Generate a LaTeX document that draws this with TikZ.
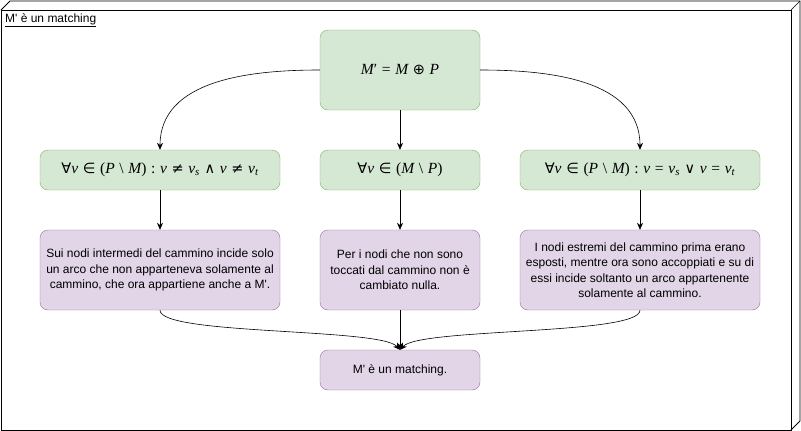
\documentclass[tikz,border=0pt]{standalone}
\usepackage{fontspec}
\setmainfont{Liberation Sans}
\newfontfamily\formulafont{Liberation Serif}
\newfontfamily\symfont{DejaVu Sans}
\usetikzlibrary{arrows.meta}

\definecolor{greenfill}{HTML}{D5E8D4}
\definecolor{greenline}{HTML}{82B366}
\definecolor{purplefill}{HTML}{E1D5E7}
\definecolor{purpleline}{HTML}{9673A6}
\newcommand{\apo}{\textquotesingle}
\newcommand{\mvar}[1]{{\itshape #1}}
\newcommand{\msym}[1]{{\symfont\fontsize{14.5}{16}\selectfont #1}}
\newcommand{\mrel}[1]{\hspace{0.3em}#1\hspace{0.3em}}
\newcommand{\lowix}[1]{\textsubscript{\itshape #1}}

\tikzset{
  greenbox/.style={draw=greenline, fill=greenfill, rounded corners=8pt,
    minimum height=40pt, inner sep=2pt, font=\formulafont\fontsize{15.5}{17}\selectfont},
  purplebox/.style={draw=purpleline, fill=purplefill, rounded corners=8pt,
    minimum height=80pt, inner sep=2pt, align=center,
    font=\fontsize{12}{15.5}\selectfont},
  link/.style={-{Stealth[length=7pt,width=6pt]}, line width=0.6pt}
}

\begin{document}
\begin{tikzpicture}[x=1pt, y=-1pt]
        \useasboundingbox (0,0) rectangle (801,431);

        % The box round everything
        \draw[line width=0.9pt, fill=white] (1,10) -- (791,10) -- (791,430) -- (1,430) -- cycle;
        \draw[line width=0.9pt] (1,10) -- (10,1) -- (800,1) -- (800,421) -- (791,430);
        \draw[line width=0.6pt] (791,10) -- (800,1);
        \node[anchor=west, inner sep=0pt, font=\fontsize{12}{14}\selectfont] (title) at (5,20)
          {\underline{M\apo{} è un matching}};

        % The definition
        \node[greenbox, minimum width=160pt, minimum height=80pt] (def) at (400,70)
          {\mvar{M}′\mrel{=}\mvar{M}\mrel{\msym{⊕}}\mvar{P}};

        % The three cases
        \node[greenbox, minimum width=240pt] (caseA) at (160,170)
          {\msym{∀}\mvar{v}\mrel{\msym{∈}}(\mvar{P}\mrel{\textbackslash}\mvar{M})\mrel{:}\mvar{v}\mrel{\msym{≠}}\mvar{v}\lowix{s}\mrel{\msym{∧}}\mvar{v}\mrel{\msym{≠}}\mvar{v}\lowix{t}};
        \node[greenbox, minimum width=160pt] (caseB) at (400,170)
          {\msym{∀}\mvar{v}\mrel{\msym{∈}}(\mvar{M}\mrel{\textbackslash}\mvar{P})};
        \node[greenbox, minimum width=240pt] (caseC) at (640,170)
          {\msym{∀}\mvar{v}\mrel{\msym{∈}}(\mvar{P}\mrel{\textbackslash}\mvar{M})\mrel{:}\mvar{v}\mrel{=}\mvar{v}\lowix{s}\mrel{\msym{∨}}\mvar{v}\mrel{=}\mvar{v}\lowix{t}};

        % What follows in each case
        \node[purplebox, minimum width=240pt] (resA) at (160,270)
          {Sui nodi intermedi del cammino incide solo\\un arco che non apparteneva solamente al\\cammino, che ora appartiene anche a M\apo.};
        \node[purplebox, minimum width=160pt] (resB) at (400,270)
          {Per i nodi che non sono\\toccati dal cammino non è\\cambiato nulla.};
        \node[purplebox, minimum width=240pt] (resC) at (640,270)
          {I nodi estremi del cammino prima erano\\esposti, mentre ora sono accoppiati e su di\\essi incide soltanto un arco appartenente\\solamente al cammino.};

        % The conclusion
        \node[purplebox, minimum width=160pt, minimum height=40pt] (end) at (400,370) {M\apo{} è un matching.};

        % The arrows
        \draw[link] (def.west) to[out=180, in=90] (caseA.north);
        \draw[link] (def.south) -- (caseB.north);
        \draw[link] (def.east) to[out=0, in=90] (caseC.north);
        \draw[link] (caseA) -- (resA);
        \draw[link] (caseB) -- (resB);
        \draw[link] (caseC) -- (resC);
        \draw[link] (resA.south) .. controls +(0,25) and +(-20,-22) .. (end.north);
        \draw[link] (resB) -- (end);
        \draw[link] (resC.south) .. controls +(0,25) and +(20,-22) .. (end.north);
    \end{tikzpicture}
\end{document}
